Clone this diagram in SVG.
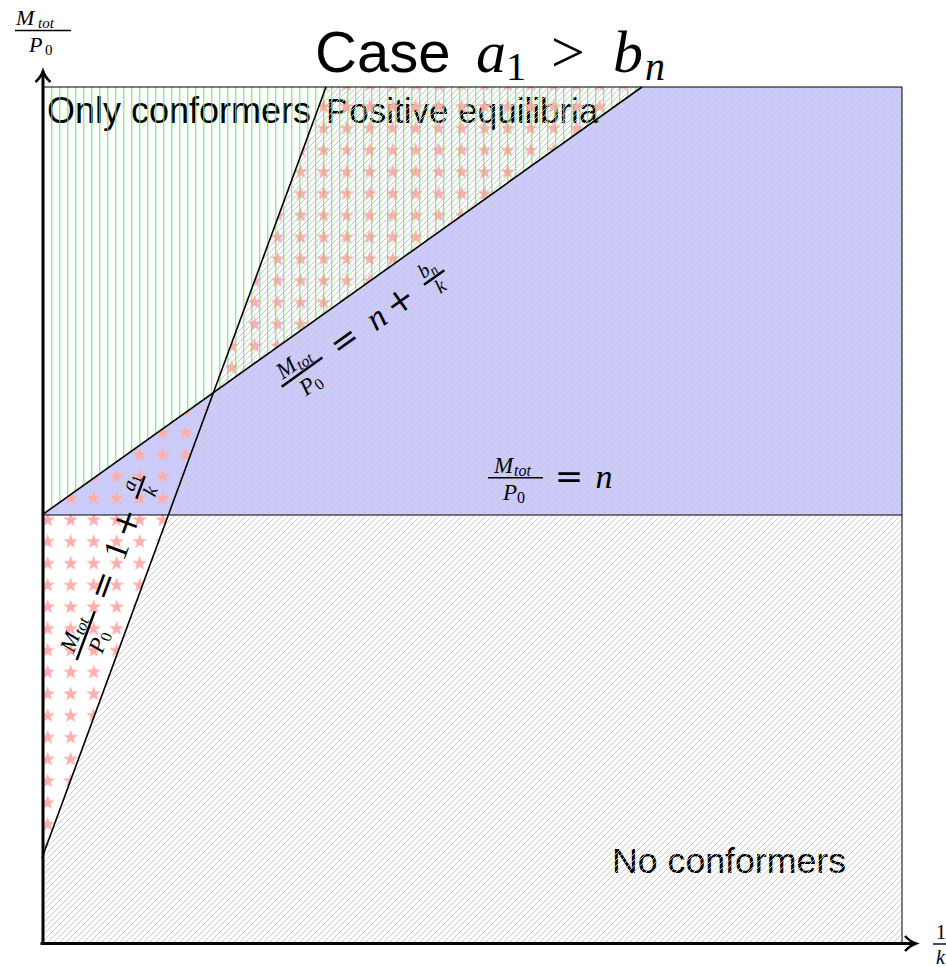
<svg xmlns="http://www.w3.org/2000/svg" width="946" height="967" viewBox="0 0 946 967">
<style>
.mi{font-family:"Liberation Serif",serif;font-style:italic;fill:#000}
.mr{font-family:"Liberation Serif",serif;fill:#000}
.op{font-family:"DejaVu Serif",serif;fill:#000}
.sans{font-family:"Liberation Sans",Arial,sans-serif;fill:#000}
.edge{stroke:#000;fill:none}
.bar{stroke:#000}
</style>
<defs>
<pattern id="hatch" patternUnits="userSpaceOnUse" width="6" height="6">
<path d="M-1,1 L1,-1 M0,6 L6,0 M5,7 L7,5" stroke="#c6c6c6" stroke-width="0.9"/>
</pattern>
<pattern id="vlines" patternUnits="userSpaceOnUse" x="3.3" y="0" width="8" height="8">
<line x1="0.5" y1="0" x2="0.5" y2="8" stroke="#5fe65f" stroke-width="1"/>
</pattern>
<pattern id="stars" patternUnits="userSpaceOnUse" x="36.2" y="509.1" width="23" height="21.75">
<polygon points="11.5,3.075 13.322,8.367 18.918,8.465 14.448,11.833 16.085,17.185 11.5,13.975 6.915,17.185 8.552,11.833 4.082,8.465 9.678,8.367" fill="#ffaeae"/>
</pattern>
<marker id="arr" markerWidth="16" markerHeight="18" refX="12" refY="9" orient="auto" markerUnits="userSpaceOnUse">
<path d="M1,1.5 Q6,7 12,9 Q6,11 1,16.5" fill="none" stroke="#000" stroke-width="2.4"/>
</marker>
</defs>

<g id="regions">
<polygon id="blue-region" points="42,515 642,87 902,87 902,515" fill="#ccccfb"/>
<text class="sans" x="47" y="123" font-size="36">Only conformers</text>
<text class="sans" x="326" y="123" font-size="35">Positive equilibria</text>
<text class="sans" x="612" y="873" font-size="35.7">No conformers</text>
<polygon id="hatch-region" points="42,943 42,858 326,87 902,87 902,943" fill="url(#hatch)"/>
<polygon id="stars-a" points="42,515 213.4,392.75 42,858" fill="url(#stars)"/>
<polygon id="stars-b" points="213.4,392.75 326,87 642,87" fill="url(#stars)"/>
<polygon id="green-region" points="42,515 642,87 42,87" fill="url(#vlines)"/>
</g>

<g id="connectors">
<line class="edge" x1="42" y1="87" x2="902" y2="87" stroke-width="1"/>
<line class="edge" x1="902" y1="87" x2="902" y2="943" stroke-width="1"/>
<line class="edge" x1="42" y1="515" x2="902" y2="515" stroke-width="1.2"/>
<line class="edge" x1="42" y1="858" x2="326" y2="87" stroke-width="1.6"/>
<line class="edge" x1="42" y1="515" x2="642" y2="87" stroke-width="1.6"/>
<line class="edge" x1="40.5" y1="943.5" x2="916" y2="943.5" stroke-width="3" marker-end="url(#arr)"/>
<line class="edge" x1="43" y1="945" x2="43" y2="71" stroke-width="3" marker-end="url(#arr)"/>
</g>

<g id="title">
<text class="sans" x="315" y="72" font-size="58">Case</text>
<text class="mi" x="476" y="72" font-size="60">a</text>
<text class="mr" x="506" y="80" font-size="40">1</text>
<text class="mr" x="551" y="72" font-size="60">&gt;</text>
<text class="mi" x="613" y="72" font-size="60">b</text>
<text class="mi" x="645" y="80" font-size="40">n</text>
</g>

<g id="y-label">
<text class="mi" x="16" y="25" font-size="22">M</text>
<text class="mi" x="38" y="28" font-size="15">tot</text>
<line class="bar" x1="15" y1="30.5" x2="71" y2="30.5" stroke-width="1.4"/>
<text class="mi" x="29" y="52" font-size="22">P</text>
<text class="mr" x="45" y="55" font-size="15">0</text>
</g>

<g id="x-label">
<text class="mr" x="936" y="939" font-size="20">1</text>
<line class="bar" x1="933" y1="944" x2="950" y2="944" stroke-width="1.4"/>
<text class="mi" x="936" y="964" font-size="20">k</text>
</g>

<g id="label-n" transform="translate(488,477.7)">
<text class="mi" x="6" y="-5" font-size="23">M</text>
<text class="mi" x="26" y="-2" font-size="16">tot</text>
<line class="bar" x1="0" y1="0" x2="55" y2="0" stroke-width="1.5"/>
<text class="mi" x="15" y="22" font-size="23">P</text>
<text class="mr" x="29" y="25" font-size="16">0</text>
<text class="op" x="81" y="10" font-size="34" text-anchor="middle">=</text>
<text class="mi" x="116" y="10" font-size="34" text-anchor="middle">n</text>
</g>

<g id="label-l2" transform="translate(281.7,386.7) rotate(-35.6)">
<text class="mi" x="5" y="-5" font-size="23">M</text>
<text class="mi" x="25" y="-2" font-size="16">tot</text>
<line class="bar" x1="0" y1="0" x2="50" y2="0" stroke-width="2.5"/>
<text class="mi" x="14" y="22" font-size="23">P</text>
<text class="mr" x="28" y="25" font-size="16">0</text>
<text class="op" x="78" y="10" font-size="34" text-anchor="middle">=</text>
<text class="mi" x="117" y="10" font-size="34" text-anchor="middle">n</text>
<text class="op" x="146" y="10" font-size="34" text-anchor="middle">+</text>
<text class="mi" x="178" y="-5" font-size="20">b</text>
<text class="mi" x="188" y="-2" font-size="14">n</text>
<line class="bar" x1="175" y1="0" x2="200" y2="0" stroke-width="2.5"/>
<text class="mi" x="187.5" y="17" font-size="20" text-anchor="middle">k</text>
</g>

<g id="label-l1" transform="translate(76.7,660) rotate(-69.7)">
<text class="mi" x="5" y="-5" font-size="23">M</text>
<text class="mi" x="25" y="-2" font-size="16">tot</text>
<line class="bar" x1="0" y1="0" x2="52" y2="0" stroke-width="2.5"/>
<text class="mi" x="14" y="22" font-size="23">P</text>
<text class="mr" x="28" y="25" font-size="16">0</text>
<text class="op" x="79" y="10" font-size="34" text-anchor="middle">=</text>
<text class="mr" x="117" y="10" font-size="34" text-anchor="middle">1</text>
<text class="op" x="146" y="10" font-size="34" text-anchor="middle">+</text>
<text class="mi" x="177" y="-5" font-size="20">a</text>
<text class="mr" x="187" y="-2" font-size="14">1</text>
<line class="bar" x1="172" y1="0" x2="196" y2="0" stroke-width="2.5"/>
<text class="mi" x="184" y="17" font-size="20" text-anchor="middle">k</text>
</g>
</svg>
